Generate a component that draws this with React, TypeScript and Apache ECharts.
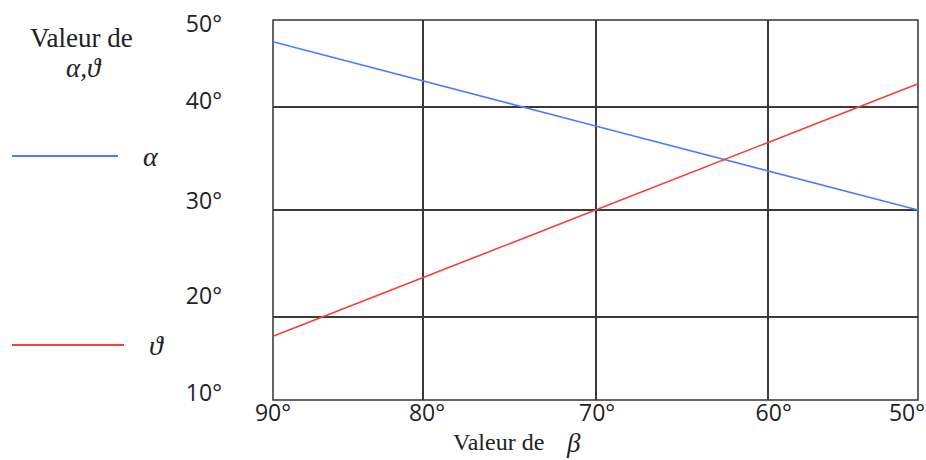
import React, { useEffect, useRef } from 'react';
import * as echarts from 'echarts';

// β values (x) and the two curves
const betaValues = [90, 70, 50];
const alphaValues = [47.7, 38.85, 30.0];
const thetaValues = [16.7, 30.0, 43.3];

// grid lines as drawn in the reference
const xGridValues = [80.7, 70, 59.3];
const yGridValues = [40.9, 30, 18.8];

// tick labels and where they sit
const xTickLabels = ['90°', '80°', '70°', '60°', '50°'];
const xLabelValues = [90, 80.45, 69.9, 58.95, 50.68];
const yTickLabels = ['50°', '40°', '30°', '20°', '10°'];
const yLabelValues = [49.7, 41.6, 31.05, 21.05, 10.85];

const seriesNames = ['α', 'ϑ'];

const nearestLabel = (vals: number[], labels: string[], v: number) => {
  let best = 0;
  for (let i = 1; i < vals.length; i++) {
    if (Math.abs(vals[i] - v) < Math.abs(vals[best] - v)) best = i;
  }
  return labels[best];
};

const SERIF = '"Liberation Serif", "DejaVu Serif", serif';
const SANS = '"Open Sans", "Noto Sans", sans-serif';

export default function App() {
  const ref = useRef<HTMLDivElement>(null);
  useEffect(() => {
    document.body.style.margin = '0';
    if (!ref.current) return;
    const chart = echarts.init(ref.current, undefined, { renderer: 'svg' });
    const legendText = {
      fontFamily: SERIF,
      fontStyle: 'italic' as const,
      fontSize: 28,
      color: '#222',
      padding: [0, 0, 0, 20],
    };
    chart.setOption({
      animation: false,
      backgroundColor: '#fff',
      grid: {
        left: 273,
        right: 8,
        top: 20,
        bottom: 60,
        containLabel: false,
        outerBoundsMode: 'none',
        show: true,
        borderColor: '#333',
        borderWidth: 1.5,
        backgroundColor: 'transparent',
      },
      xAxis: {
        type: 'value',
        min: 50,
        max: 90,
        inverse: true,
        axisLine: { show: false },
        axisTick: { show: false, customValues: xGridValues },
        splitLine: { show: true, lineStyle: { color: '#3a3a3a', width: 2 } },
        axisLabel: {
          customValues: xLabelValues,
          formatter: (v: number) => nearestLabel(xLabelValues, xTickLabels, v),
          fontFamily: SANS,
          fontSize: 23,
          color: '#222',
          margin: 0,
        },
      },
      yAxis: {
        type: 'value',
        min: 10,
        max: 50,
        axisLine: { show: false },
        axisTick: { show: false, customValues: yGridValues },
        splitLine: { show: true, lineStyle: { color: '#3a3a3a', width: 2 } },
        axisLabel: {
          customValues: yLabelValues,
          formatter: (v: number) => nearestLabel(yLabelValues, yTickLabels, v),
          fontFamily: SANS,
          fontSize: 23,
          color: '#222',
          margin: 51,
        },
      },
      legend: [
        {
          data: [seriesNames[0]],
          left: 12,
          top: 142,
          padding: 0,
          icon: 'rect',
          itemWidth: 106,
          itemHeight: 2,
          textStyle: legendText,
        },
        {
          data: [seriesNames[1]],
          left: 12,
          top: 331,
          padding: 0,
          icon: 'rect',
          itemWidth: 112,
          itemHeight: 2,
          textStyle: legendText,
        },
      ],
      graphic: [
        {
          type: 'text',
          left: 30,
          top: 24,
          style: { text: 'Valeur de', fontFamily: SERIF, fontSize: 27, fill: '#222' },
        },
        {
          type: 'text',
          left: 66,
          top: 54,
          style: { text: 'α,ϑ', fontFamily: SERIF, fontStyle: 'italic', fontSize: 27, fill: '#222' },
        },
        {
          type: 'text',
          left: 453,
          top: 430,
          style: { text: 'Valeur de', fontFamily: SERIF, fontSize: 24, fill: '#222' },
        },
        {
          type: 'text',
          left: 567,
          top: 429,
          style: { text: 'β', fontFamily: SERIF, fontStyle: 'italic', fontSize: 27, fill: '#222' },
        },
      ],
      series: [
        {
          type: 'line',
          name: seriesNames[0],
          data: betaValues.map((b, i) => [b, alphaValues[i]]),
          symbol: 'none',
          lineStyle: { color: '#4f7cff', width: 1.6 },
          itemStyle: { color: '#4f7cff' },
          z: 5,
        },
        {
          type: 'line',
          name: seriesNames[1],
          data: betaValues.map((b, i) => [b, thetaValues[i]]),
          symbol: 'none',
          lineStyle: { color: '#ff3b3b', width: 1.6 },
          itemStyle: { color: '#ff3b3b' },
          z: 5,
        },
      ],
    });
    return () => chart.dispose();
  }, []);
  return <div ref={ref} style={{ width: 926, height: 460 }} />;
}
